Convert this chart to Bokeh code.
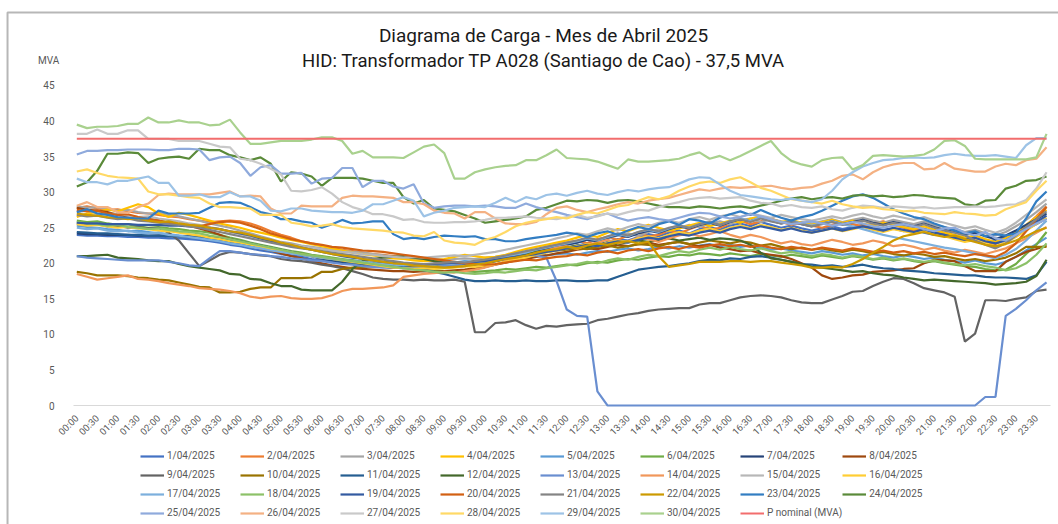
import sys
from bokeh.plotting import figure
from bokeh.models import Range1d, FixedTicker, Legend, LegendItem, Label, BoxAnnotation
from bokeh.embed import file_html
from bokeh.resources import INLINE

title_line1 = "Diagrama de Carga - Mes de Abril 2025"
title_line2 = "HID: Transformador TP A028 (Santiago de Cao) - 37,5 MVA"
unit_label = "MVA"

time_labels = ["00:00", "00:30", "01:00", "01:30", "02:00", "02:30", "03:00", "03:30",
               "04:00", "04:30", "05:00", "05:30", "06:00", "06:30", "07:00", "07:30",
               "08:00", "08:30", "09:00", "09:30", "10:00", "10:30", "11:00", "11:30",
               "12:00", "12:30", "13:00", "13:30", "14:00", "14:30", "15:00", "15:30",
               "16:00", "16:30", "17:00", "17:30", "18:00", "18:30", "19:00", "19:30",
               "20:00", "20:30", "21:00", "21:30", "22:00", "22:30", "23:00", "23:30"]

day_labels = ["1/04/2025", "2/04/2025", "3/04/2025", "4/04/2025", "5/04/2025", "6/04/2025",
              "7/04/2025", "8/04/2025", "9/04/2025", "10/04/2025", "11/04/2025", "12/04/2025",
              "13/04/2025", "14/04/2025", "15/04/2025", "16/04/2025", "17/04/2025", "18/04/2025",
              "19/04/2025", "20/04/2025", "21/04/2025", "22/04/2025", "23/04/2025", "24/04/2025",
              "25/04/2025", "26/04/2025", "27/04/2025", "28/04/2025", "29/04/2025", "30/04/2025"]

p_nominal_label = "P nominal (MVA)"
p_nominal_mva = 37.5
y_ticks = [0, 5, 10, 15, 20, 25, 30, 35, 40, 45]

# 15-minute readings (96 per day), MVA
d01 = [24.0, 23.9, 23.9, 23.8, 23.8, 23.7, 23.7, 23.6, 23.6, 23.5, 23.5, 23.4, 23.3, 23.1, 22.9, 22.6, 22.4, 22.1, 21.8, 21.6, 21.3, 21.1, 20.9, 20.6,
       20.4, 20.2, 20.0, 19.9, 19.7, 19.6, 19.5, 19.4, 19.5, 19.4, 19.6, 19.5, 19.6, 19.7, 19.8, 19.9, 20.1, 20.3, 20.6, 20.9, 21.2, 21.4, 21.7, 22.0,
       22.2, 22.5, 22.8, 22.6, 23.0, 23.4, 23.2, 23.7, 24.1, 23.8, 24.3, 24.6, 24.2, 24.8, 25.1, 24.7, 25.3, 25.6, 25.2, 25.8, 25.4, 25.0, 25.3, 24.9,
       24.6, 24.9, 25.2, 24.8, 25.1, 25.4, 25.0, 24.7, 24.9, 24.5, 24.8, 24.3, 24.0, 24.2, 23.8, 23.5, 23.2, 22.9, 23.3, 23.6, 24.1, 24.8, 25.5, 26.3]
d02 = [27.8, 28.0, 27.7, 27.5, 27.6, 27.3, 27.1, 27.0, 26.8, 26.6, 26.5, 26.2, 26.0, 25.8, 25.9, 26.0, 25.9, 25.6, 25.1, 24.5, 24.0, 23.6, 23.1, 22.8,
       22.5, 22.2, 21.9, 21.7, 21.5, 21.3, 21.2, 21.0, 20.8, 20.6, 20.5, 20.3, 20.2, 20.0, 19.9, 20.1, 20.3, 20.6, 20.8, 21.1, 21.5, 21.9, 22.3, 22.6,
       22.9, 23.2, 22.8, 23.4, 23.7, 23.3, 23.9, 24.3, 23.8, 24.0, 24.6, 24.2, 24.8, 25.3, 24.7, 25.0, 25.6, 26.0, 25.5, 25.9, 26.3, 25.8, 25.4, 25.7,
       25.3, 25.0, 25.4, 25.8, 25.5, 25.2, 25.6, 25.9, 25.4, 25.0, 24.6, 24.9, 24.4, 24.0, 23.7, 23.2, 23.5, 23.0, 22.7, 23.4, 24.2, 25.3, 26.6, 28.0]
d03 = [28.0, 27.8, 27.9, 27.6, 27.4, 27.5, 27.2, 27.0, 27.1, 26.8, 26.6, 26.3, 26.0, 25.6, 25.3, 25.0, 24.6, 24.2, 23.8, 23.4, 23.0, 22.8, 22.5, 22.3,
       22.1, 21.9, 21.8, 21.6, 21.5, 21.3, 21.1, 20.9, 20.7, 20.6, 20.5, 20.6, 20.5, 20.6, 20.7, 20.6, 20.8, 20.9, 21.1, 21.3, 21.6, 21.8, 22.1, 22.4,
       22.6, 22.9, 23.3, 23.0, 23.5, 23.9, 24.2, 23.8, 24.4, 24.8, 24.5, 25.0, 25.4, 25.1, 25.6, 25.9, 25.5, 26.1, 26.3, 25.8, 26.2, 25.9, 25.5, 25.8,
       25.6, 25.9, 26.2, 25.8, 26.1, 26.4, 26.0, 25.7, 26.1, 25.8, 25.5, 25.9, 25.4, 25.1, 24.8, 24.4, 24.7, 24.2, 23.9, 24.4, 25.2, 26.1, 27.2, 28.4]
d04 = [26.5, 27.0, 27.2, 27.6, 27.3, 27.8, 28.3, 27.9, 27.0, 26.5, 27.1, 26.8, 26.4, 26.0, 25.6, 25.3, 25.0, 24.6, 24.3, 24.0, 23.6, 23.3, 23.0, 22.7,
       22.4, 22.1, 21.8, 21.5, 21.3, 21.1, 20.9, 20.7, 20.6, 20.4, 20.3, 20.4, 20.6, 20.9, 21.2, 21.0, 20.8, 20.9, 21.2, 21.6, 22.0, 22.3, 22.6, 22.9,
       23.2, 23.6, 24.0, 23.7, 24.3, 24.8, 24.5, 25.0, 25.4, 25.0, 24.6, 24.9, 25.3, 25.7, 25.2, 25.6, 26.0, 25.7, 26.3, 26.6, 26.2, 25.8, 26.1, 25.7,
       25.4, 25.8, 26.1, 25.7, 26.0, 25.6, 25.3, 25.7, 25.4, 25.1, 24.8, 25.2, 24.7, 24.3, 24.0, 23.6, 23.9, 23.4, 23.0, 23.5, 24.4, 25.4, 26.5, 27.5]
d05 = [25.3, 25.1, 25.0, 24.8, 24.7, 24.5, 24.6, 24.4, 24.2, 24.1, 23.9, 23.8, 23.6, 23.4, 23.1, 22.9, 22.7, 22.4, 22.2, 21.9, 21.7, 21.5, 21.3, 21.1,
       20.9, 20.7, 20.5, 20.4, 20.2, 20.1, 20.0, 19.9, 19.8, 19.9, 19.8, 19.9, 20.0, 20.1, 20.3, 20.2, 20.4, 20.6, 20.7, 20.9, 21.0, 21.2, 21.1, 21.3,
       21.4, 21.2, 21.5, 21.7, 21.6, 21.9, 22.1, 21.8, 22.0, 22.3, 22.1, 22.4, 22.2, 22.5, 22.7, 22.4, 22.6, 22.3, 22.5, 22.2, 21.9, 22.1, 21.8, 21.6,
       21.4, 21.7, 21.5, 21.2, 21.4, 21.1, 21.3, 21.0, 20.8, 21.1, 20.9, 20.6, 20.8, 20.5, 20.3, 20.1, 20.4, 20.0, 19.8, 20.2, 20.9, 21.8, 22.7, 23.6]
d06 = [26.0, 25.8, 25.9, 25.6, 25.4, 25.5, 25.2, 25.0, 25.1, 24.9, 24.8, 24.6, 24.5, 24.3, 24.0, 23.6, 23.3, 22.9, 22.6, 22.3, 22.0, 21.7, 21.5, 21.2,
       21.0, 20.8, 20.6, 20.4, 20.2, 20.0, 19.8, 19.6, 19.4, 19.3, 19.1, 19.0, 18.9, 18.8, 18.9, 18.8, 18.9, 19.0, 19.2, 19.1, 19.3, 19.5, 19.4, 19.6,
       19.8, 19.7, 20.0, 20.2, 20.1, 20.4, 20.6, 20.5, 20.8, 21.0, 20.9, 21.2, 21.1, 21.4, 21.3, 21.1, 21.4, 21.2, 21.0, 21.3, 21.1, 20.9, 21.2, 21.0,
       20.8, 21.1, 20.9, 20.7, 21.0, 20.8, 20.5, 20.7, 20.4, 20.6, 20.3, 20.1, 20.3, 20.0, 19.8, 19.6, 19.5, 19.2, 19.0, 19.1, 19.9, 21.3, 22.6, 24.4]
d07 = [24.2, 24.1, 24.1, 24.0, 24.0, 24.0, 23.9, 23.9, 23.9, 23.8, 23.8, 23.8, 23.7, 23.7, 23.6, 23.4, 23.1, 22.8, 22.5, 22.2, 21.9, 21.6, 21.3, 21.0,
       20.7, 20.4, 20.2, 20.0, 19.8, 19.7, 19.5, 19.4, 19.3, 19.3, 19.2, 19.3, 19.4, 19.5, 19.6, 19.8, 20.0, 20.3, 20.6, 20.9, 21.3, 21.6, 22.0, 22.3,
       22.6, 22.9, 23.3, 23.1, 23.6, 24.0, 23.7, 24.2, 24.6, 24.3, 24.8, 25.2, 24.9, 25.4, 25.7, 25.3, 25.8, 26.2, 25.9, 26.4, 26.0, 25.6, 25.9, 25.5,
       25.2, 25.6, 25.9, 25.5, 25.8, 26.1, 25.7, 25.4, 25.8, 25.5, 25.2, 25.6, 25.1, 24.7, 24.4, 24.0, 24.3, 23.8, 23.4, 23.9, 24.6, 25.4, 26.2, 27.0]
d08 = [27.8, 27.5, 27.4, 27.2, 26.8, 26.6, 26.5, 26.2, 26.0, 25.7, 25.5, 25.3, 24.9, 24.5, 24.0, 23.4, 23.0, 22.6, 22.1, 21.8, 21.4, 21.0, 20.7, 20.3,
       20.0, 19.7, 19.5, 19.3, 19.2, 19.1, 19.0, 18.9, 18.9, 18.8, 18.9, 18.8, 18.9, 19.0, 19.1, 19.3, 19.5, 19.8, 20.1, 20.4, 20.6, 20.9, 21.1, 21.4,
       21.6, 21.9, 22.1, 22.0, 22.3, 22.6, 22.4, 22.7, 22.9, 22.6, 22.8, 23.0, 22.7, 22.4, 22.6, 22.2, 22.0, 21.7, 21.8, 21.4, 21.2, 21.0, 20.6, 20.0,
       19.4, 18.3, 17.8, 18.0, 18.3, 18.4, 18.8, 18.9, 19.0, 19.2, 19.3, 20.0, 20.5, 20.4, 20.3, 19.6, 18.9, 18.9, 18.9, 20.2, 20.9, 21.6, 22.0, 22.5]
d09 = [25.6, 25.4, 25.5, 25.2, 25.3, 25.0, 25.1, 24.9, 25.0, 24.3, 23.2, 21.4, 19.6, 20.4, 21.2, 21.6, 21.5, 21.3, 21.1, 21.0, 20.6, 20.4, 20.3, 20.1,
       19.8, 19.6, 19.3, 18.9, 18.5, 18.0, 17.8, 17.7, 17.7, 17.6, 17.7, 17.6, 17.6, 17.7, 17.4, 10.3, 10.3, 11.6, 11.7, 12.0, 11.3, 10.8, 11.2, 11.1,
       11.3, 11.4, 11.5, 12.0, 12.2, 12.5, 12.8, 13.0, 13.3, 13.5, 13.6, 13.7, 13.7, 14.2, 14.4, 14.4, 14.8, 15.2, 15.4, 15.5, 15.4, 15.2, 14.8, 14.5,
       14.4, 14.4, 14.9, 15.4, 16.0, 16.1, 16.8, 17.4, 17.9, 17.8, 17.2, 16.5, 16.2, 15.9, 15.3, 9.0, 10.1, 14.8, 14.8, 14.7, 15.0, 15.2, 16.1, 16.3]
d10 = [18.8, 18.6, 18.3, 18.3, 18.3, 18.2, 18.0, 17.9, 17.7, 17.6, 17.3, 17.0, 16.7, 16.6, 15.9, 15.9, 16.0, 16.4, 16.6, 16.6, 17.9, 17.9, 17.9, 18.0,
       18.8, 18.8, 19.2, 19.4, 19.5, 19.6, 19.6, 19.5, 19.7, 19.6, 19.8, 19.7, 19.9, 20.1, 20.0, 20.3, 20.5, 20.4, 20.8, 21.0, 21.2, 21.3, 21.6, 21.8,
       21.9, 22.1, 22.0, 22.3, 22.5, 22.2, 22.4, 22.7, 22.6, 22.4, 22.8, 23.0, 22.7, 22.9, 23.2, 23.0, 22.8, 23.1, 22.9, 22.5, 22.7, 22.3, 22.0, 22.2,
       21.9, 22.1, 21.8, 21.6, 21.9, 21.7, 21.4, 21.6, 21.3, 21.1, 21.4, 21.2, 20.9, 21.0, 20.7, 20.4, 20.6, 20.3, 20.5, 20.8, 21.4, 22.3, 22.3, 22.3]
d11 = [24.4, 24.3, 24.2, 24.2, 24.1, 24.0, 24.0, 23.9, 23.9, 23.8, 23.8, 23.7, 23.6, 23.4, 23.2, 22.9, 22.7, 22.5, 22.2, 22.0, 21.7, 21.5, 21.2, 21.0,
       20.7, 20.5, 20.3, 20.1, 19.9, 19.8, 19.7, 19.6, 19.5, 19.3, 19.0, 18.8, 18.5, 18.1, 17.7, 17.5, 17.5, 17.6, 17.5, 17.5, 17.6, 17.5, 17.5, 17.6,
       17.6, 17.5, 17.5, 17.6, 17.6, 18.1, 18.6, 19.1, 19.3, 19.5, 19.6, 19.8, 20.0, 20.3, 20.5, 20.4, 20.7, 20.6, 20.9, 21.0, 20.8, 20.5, 20.2, 19.9,
       19.8, 19.6, 19.7, 19.5, 19.6, 19.8, 19.5, 19.3, 19.2, 19.0, 18.9, 18.8, 18.6, 18.5, 18.4, 18.3, 18.3, 18.1, 18.0, 18.0, 17.9, 17.8, 18.3, 20.2]
d12 = [21.0, 21.0, 21.1, 21.2, 20.8, 20.7, 20.6, 20.4, 20.3, 20.3, 19.9, 19.6, 19.4, 19.2, 19.0, 18.5, 18.4, 17.8, 17.7, 17.2, 16.8, 16.8, 16.3, 16.2,
       16.2, 16.2, 17.4, 19.2, 20.3, 20.6, 20.8, 20.9, 21.0, 20.8, 20.6, 20.3, 20.1, 19.9, 19.8, 20.0, 20.2, 20.5, 20.8, 21.0, 21.3, 21.6, 21.8, 22.0,
       22.2, 22.5, 22.3, 22.6, 22.9, 22.7, 23.0, 23.2, 23.0, 23.3, 23.5, 23.2, 23.4, 23.6, 23.3, 23.5, 23.4, 23.2, 22.6, 21.5, 20.7, 20.5, 20.2, 19.9,
       19.5, 19.4, 19.2, 19.0, 18.8, 18.9, 18.6, 18.4, 18.3, 18.0, 17.8, 17.6, 17.7, 17.6, 17.5, 17.4, 17.3, 17.2, 17.0, 17.1, 17.2, 17.4, 18.2, 20.5]
d13 = [21.0, 20.8, 20.7, 20.6, 20.5, 20.4, 20.4, 20.4, 20.4, 20.2, 20.0, 19.7, 19.6, 20.7, 21.7, 21.7, 21.5, 21.3, 21.2, 21.0, 20.9, 20.7, 20.6, 20.4,
       20.3, 20.1, 19.9, 19.8, 19.6, 19.5, 19.4, 19.5, 19.3, 19.4, 19.5, 19.4, 19.6, 19.8, 19.7, 19.9, 20.2, 20.4, 20.6, 20.9, 21.0, 21.1, 20.8, 17.5,
       13.5, 12.6, 12.5, 2.0, 0.0, 0.0, 0.0, 0.0, 0.0, 0.0, 0.0, 0.0, 0.0, 0.0, 0.0, 0.0, 0.0, 0.0, 0.0, 0.0, 0.0, 0.0, 0.0, 0.0,
       0.0, 0.0, 0.0, 0.0, 0.0, 0.0, 0.0, 0.0, 0.0, 0.0, 0.0, 0.0, 0.0, 0.0, 0.0, 0.0, 0.0, 1.2, 1.2, 12.6, 13.6, 14.8, 16.2, 17.3]
d14 = [18.5, 18.1, 17.7, 17.9, 18.1, 18.3, 17.8, 17.7, 17.5, 17.2, 17.0, 16.8, 16.5, 16.4, 16.3, 16.1, 15.8, 15.3, 15.1, 15.3, 15.4, 15.1, 15.0, 15.0,
       15.1, 15.5, 16.1, 16.4, 16.4, 16.5, 16.6, 16.9, 18.1, 18.3, 18.5, 18.6, 18.8, 18.7, 18.9, 19.1, 19.4, 19.8, 20.3, 20.7, 21.0, 21.4, 21.8, 22.2,
       22.4, 22.0, 22.6, 22.9, 23.3, 22.8, 23.1, 23.6, 23.4, 23.0, 23.5, 23.9, 24.2, 23.8, 24.1, 24.5, 24.0, 23.6, 24.0, 23.7, 23.2, 22.8, 23.1, 22.7,
       22.5, 22.9, 23.3, 23.0, 22.6, 22.8, 23.2, 22.9, 22.4, 22.6, 22.3, 21.9, 22.2, 21.8, 21.5, 21.9, 21.6, 21.3, 21.7, 22.1, 22.8, 23.5, 24.3, 25.1]
d15 = [27.2, 27.4, 27.1, 26.9, 27.0, 26.7, 26.5, 26.6, 26.3, 26.1, 25.9, 25.6, 25.4, 25.1, 24.8, 24.4, 24.1, 23.8, 23.5, 23.2, 22.9, 22.6, 22.4, 22.2,
       22.0, 21.8, 21.6, 21.5, 21.3, 21.2, 21.0, 20.9, 20.8, 20.9, 20.8, 20.9, 21.0, 21.1, 21.0, 21.2, 21.4, 21.6, 21.9, 22.2, 22.5, 22.8, 23.1, 23.5,
       23.8, 24.2, 24.0, 24.5, 24.9, 24.6, 25.1, 25.5, 25.2, 25.7, 26.0, 25.7, 26.2, 26.5, 26.1, 26.6, 26.9, 26.5, 27.0, 26.7, 26.4, 26.8, 26.5, 26.2,
       26.0, 26.3, 26.6, 26.3, 26.7, 27.0, 26.6, 26.3, 26.7, 26.4, 26.1, 26.5, 26.0, 25.7, 25.3, 24.9, 25.2, 24.7, 24.3, 24.8, 25.7, 26.8, 27.9, 29.0]
d16 = [25.5, 25.3, 25.4, 25.2, 25.0, 25.1, 24.9, 24.8, 24.6, 24.5, 24.3, 24.1, 23.9, 23.6, 23.4, 23.1, 22.9, 22.6, 22.3, 22.0, 21.8, 21.5, 21.3, 21.0,
       20.8, 20.6, 20.4, 20.2, 20.0, 19.8, 19.6, 19.4, 19.3, 19.2, 19.3, 19.2, 19.3, 19.4, 19.6, 19.5, 19.7, 19.9, 20.2, 20.5, 20.8, 21.2, 21.5, 21.8,
       22.1, 22.4, 22.7, 22.4, 22.9, 23.2, 23.0, 23.5, 23.8, 23.5, 24.0, 24.4, 24.1, 24.6, 24.9, 24.5, 25.0, 25.3, 24.9, 25.4, 25.1, 24.7, 25.0, 24.6,
       24.3, 24.6, 24.9, 24.5, 24.8, 25.1, 24.7, 24.4, 24.8, 24.5, 24.2, 24.6, 24.1, 23.8, 23.4, 23.0, 23.3, 22.8, 22.4, 22.9, 23.7, 24.6, 25.5, 26.4]
d17 = [25.0, 24.8, 24.9, 24.6, 24.5, 24.6, 24.3, 24.2, 24.3, 24.0, 23.9, 23.7, 23.5, 23.3, 23.1, 22.8, 22.6, 22.3, 22.1, 21.8, 21.6, 21.4, 21.2, 21.0,
       20.8, 20.6, 20.5, 20.3, 20.2, 20.0, 19.9, 19.8, 19.7, 19.8, 19.7, 19.8, 19.9, 20.0, 20.2, 20.1, 20.3, 20.6, 20.9, 21.2, 21.5, 21.9, 22.2, 22.5,
       22.8, 23.1, 23.5, 23.2, 23.7, 24.1, 23.8, 24.4, 24.7, 24.4, 24.9, 25.3, 25.0, 25.5, 25.8, 25.4, 25.9, 26.3, 25.9, 26.5, 26.1, 25.7, 26.0, 25.6,
       25.3, 25.6, 25.9, 25.5, 25.2, 24.8, 24.4, 24.0, 23.7, 23.4, 23.1, 22.8, 22.5, 22.2, 22.0, 21.7, 21.4, 21.0, 20.7, 21.2, 22.0, 23.2, 24.6, 26.0]
d18 = [25.8, 25.6, 25.5, 25.3, 25.4, 25.1, 25.0, 24.8, 24.9, 24.7, 24.5, 24.4, 24.2, 23.9, 23.7, 23.4, 23.1, 22.8, 22.5, 22.2, 21.9, 21.6, 21.3, 21.1,
       20.9, 20.7, 20.5, 20.3, 20.1, 19.9, 19.7, 19.5, 19.3, 19.1, 19.0, 18.8, 18.7, 18.8, 18.6, 18.5, 18.6, 18.8, 18.7, 18.9, 19.1, 19.0, 19.3, 19.5,
       19.7, 19.9, 20.2, 20.0, 20.4, 20.7, 20.5, 20.9, 21.2, 21.0, 21.4, 21.7, 21.5, 21.9, 22.2, 21.9, 22.3, 22.0, 21.8, 22.1, 21.7, 21.4, 21.6, 21.3,
       21.0, 21.3, 21.1, 20.8, 21.1, 20.9, 20.6, 20.8, 20.5, 20.7, 20.4, 20.2, 20.4, 20.1, 19.9, 19.7, 19.9, 19.6, 19.4, 19.0, 19.3, 20.0, 21.2, 22.8]
d19 = [25.7, 25.6, 25.6, 25.5, 25.5, 25.5, 25.4, 25.4, 25.4, 25.3, 25.3, 25.2, 25.1, 25.0, 24.8, 24.5, 24.2, 23.9, 23.5, 23.1, 22.8, 22.5, 22.2, 21.9,
       21.6, 21.3, 21.0, 20.8, 20.6, 20.4, 20.2, 20.1, 20.0, 19.9, 19.8, 19.9, 20.0, 20.1, 20.0, 20.2, 20.3, 20.5, 20.7, 20.9, 21.1, 21.3, 21.6, 21.8,
       22.1, 22.3, 22.6, 22.4, 22.8, 23.1, 22.9, 23.3, 23.6, 23.4, 23.8, 24.1, 23.9, 24.3, 24.6, 24.3, 24.8, 25.1, 24.8, 25.2, 24.9, 24.6, 24.9, 24.5,
       24.3, 24.6, 24.9, 24.6, 24.9, 25.2, 24.9, 24.6, 25.0, 24.7, 24.4, 24.8, 24.3, 24.0, 23.6, 23.3, 23.6, 23.1, 22.8, 23.2, 24.0, 24.9, 25.8, 26.7]
d20 = [27.5, 27.3, 27.4, 27.0, 26.8, 26.9, 26.5, 26.2, 26.0, 25.7, 25.5, 25.3, 25.2, 25.5, 25.8, 25.9, 25.7, 25.3, 24.8, 24.2, 23.8, 23.4, 23.1, 22.8,
       22.6, 22.3, 22.2, 22.0, 21.8, 21.7, 21.6, 21.4, 21.2, 21.0, 20.8, 20.6, 20.4, 20.2, 20.0, 19.9, 19.8, 19.9, 20.1, 20.3, 20.5, 20.4, 20.7, 20.9,
       21.0, 21.3, 21.1, 21.5, 21.7, 21.4, 21.8, 22.0, 21.7, 22.1, 22.3, 22.0, 22.4, 22.2, 22.5, 22.7, 22.4, 22.6, 22.3, 22.5, 22.2, 22.0, 22.3, 22.1,
       21.9, 22.2, 22.0, 21.8, 22.1, 21.9, 21.6, 21.8, 21.5, 21.7, 21.4, 21.6, 21.3, 21.5, 21.2, 21.0, 21.3, 21.1, 20.9, 21.6, 22.8, 24.5, 26.2, 27.9]
d21 = [26.8, 26.6, 26.7, 26.4, 26.2, 26.3, 26.0, 25.9, 25.7, 25.5, 25.4, 25.2, 25.0, 24.7, 24.4, 24.1, 23.8, 23.5, 23.2, 22.9, 22.6, 22.3, 22.1, 21.9,
       21.7, 21.5, 21.3, 21.1, 20.9, 20.7, 20.5, 20.3, 20.1, 20.0, 19.9, 20.0, 20.1, 20.2, 20.1, 20.3, 20.5, 20.8, 21.1, 21.4, 21.7, 22.0, 22.3, 22.6,
       22.9, 23.2, 23.6, 23.3, 23.8, 24.2, 23.9, 24.4, 24.8, 24.5, 25.0, 25.3, 25.0, 25.5, 25.8, 25.4, 25.9, 26.2, 25.8, 26.3, 25.9, 25.6, 25.9, 25.5,
       25.2, 25.5, 25.8, 25.4, 25.7, 26.0, 25.6, 25.3, 25.7, 25.4, 25.1, 25.5, 25.0, 24.6, 24.3, 23.9, 23.2, 22.6, 22.1, 22.8, 23.9, 25.1, 26.2, 27.3]
d22 = [27.0, 26.8, 26.7, 26.5, 26.4, 26.2, 26.3, 26.0, 25.8, 25.9, 25.6, 25.4, 25.3, 25.0, 24.8, 24.5, 24.3, 24.0, 23.6, 23.3, 22.9, 22.6, 22.2, 21.9,
       21.6, 21.3, 21.1, 20.9, 20.6, 20.4, 20.2, 20.0, 19.9, 19.7, 19.6, 19.5, 19.4, 19.5, 19.6, 19.8, 20.0, 20.3, 20.6, 20.8, 21.1, 21.5, 21.8, 22.0,
       22.3, 22.1, 22.5, 22.8, 22.6, 22.9, 23.1, 22.8, 23.0, 21.0, 19.5, 19.7, 19.9, 20.2, 20.2, 20.2, 20.3, 20.3, 20.2, 20.3, 20.3, 20.1, 19.9, 19.7,
       19.4, 19.4, 19.5, 19.4, 19.9, 20.6, 21.5, 22.3, 23.2, 23.8, 24.1, 24.4, 24.0, 23.7, 23.9, 23.4, 23.0, 22.6, 22.4, 22.7, 23.2, 23.8, 24.5, 25.0]
d23 = [27.2, 27.6, 27.0, 26.8, 26.5, 26.4, 26.3, 26.3, 27.4, 27.0, 27.0, 27.0, 27.1, 27.8, 28.5, 28.6, 28.5, 27.9, 27.2, 26.9, 26.2, 26.2, 25.9, 25.7,
       25.0, 25.5, 26.1, 25.6, 25.7, 25.9, 25.9, 24.1, 23.4, 23.6, 23.4, 23.7, 23.9, 23.8, 23.7, 23.8, 23.4, 23.4, 23.1, 23.1, 23.4, 23.6, 23.8, 24.0,
       24.3, 24.1, 23.7, 24.2, 24.5, 24.0, 24.6, 25.1, 24.8, 25.5, 25.9, 25.4, 26.2, 26.0, 25.6, 26.4, 26.9, 27.3, 26.8, 27.5, 26.9, 26.4, 26.0, 26.5,
       26.8, 27.4, 28.1, 28.8, 29.4, 29.7, 29.2, 28.4, 27.6, 27.0, 26.5, 26.2, 25.6, 25.1, 24.6, 24.2, 24.5, 23.8, 24.1, 23.9, 24.2, 26.3, 28.7, 30.1]
d24 = [30.8, 31.4, 33.0, 35.4, 35.4, 35.6, 35.5, 34.1, 34.7, 34.9, 35.0, 34.7, 36.1, 35.9, 35.9, 35.2, 34.9, 34.5, 34.9, 34.0, 31.5, 32.8, 32.6, 32.2,
       30.9, 32.0, 32.0, 32.0, 31.9, 31.6, 31.3, 31.3, 29.3, 28.4, 28.9, 27.7, 27.5, 27.3, 26.8, 26.3, 25.7, 25.9, 26.1, 26.3, 26.6, 27.5, 27.8, 28.3,
       28.8, 28.7, 28.9, 28.8, 28.5, 28.8, 28.9, 28.7, 28.4, 28.1, 27.9, 27.9, 27.8, 28.0, 27.9, 27.7, 27.9, 28.0, 27.8, 28.1, 28.4, 28.8, 29.1, 29.3,
       29.0, 29.2, 29.3, 29.1, 29.5, 29.6, 29.4, 29.5, 29.3, 29.4, 29.6, 29.5, 29.3, 29.2, 29.1, 28.3, 28.1, 28.8, 28.9, 30.5, 30.9, 31.6, 31.7, 32.2]
d25 = [35.3, 35.8, 35.8, 35.9, 35.9, 36.0, 36.0, 36.0, 35.9, 35.9, 36.1, 36.1, 36.0, 34.5, 34.9, 35.0, 34.1, 32.3, 33.5, 33.8, 32.6, 32.6, 32.7, 31.2,
       31.9, 32.0, 33.4, 33.4, 30.7, 31.6, 31.6, 30.8, 30.5, 31.1, 28.4, 27.8, 28.0, 28.1, 28.1, 28.0, 28.1, 28.0, 27.8, 27.8, 28.4, 27.9, 27.5, 27.2,
       26.8, 26.5, 26.2, 26.7, 27.0, 26.4, 26.0, 26.3, 26.5, 26.2, 26.0, 26.4, 26.8, 27.1, 27.0, 26.6, 26.3, 26.5, 26.9, 26.6, 26.2, 25.8, 25.5, 25.7,
       25.9, 25.6, 25.3, 25.5, 25.8, 25.6, 25.2, 25.0, 25.3, 25.5, 25.2, 24.8, 24.5, 24.9, 25.0, 24.3, 23.9, 24.4, 23.5, 23.2, 24.0, 24.8, 25.6, 26.2]
d26 = [28.1, 28.6, 27.9, 27.9, 27.2, 27.1, 27.9, 28.4, 29.6, 29.8, 29.7, 29.7, 29.7, 29.7, 29.9, 30.1, 29.4, 29.5, 29.4, 27.7, 27.0, 27.0, 28.1, 28.0,
       28.0, 28.0, 29.2, 29.5, 29.4, 29.4, 29.3, 29.2, 28.6, 28.6, 28.3, 27.4, 27.1, 27.0, 26.3, 27.2, 27.2, 26.3, 25.6, 25.5, 25.5, 25.8, 26.9, 27.8,
       28.0, 27.5, 27.2, 27.6, 27.9, 28.3, 28.6, 28.4, 28.8, 29.0, 29.2, 29.6, 30.0, 30.4, 30.2, 30.5, 30.7, 30.6, 30.7, 30.8, 30.9, 30.6, 30.4, 30.6,
       30.7, 31.2, 31.6, 32.3, 32.5, 31.8, 32.8, 33.5, 33.9, 34.1, 34.1, 33.2, 33.3, 34.1, 33.3, 33.1, 32.9, 32.9, 33.6, 34.0, 33.8, 34.5, 34.7, 36.3]
d27 = [38.2, 38.2, 38.8, 38.2, 38.2, 38.7, 38.7, 37.5, 37.5, 37.5, 37.2, 37.2, 37.2, 36.8, 36.4, 36.3, 34.7, 34.5, 34.0, 33.3, 32.5, 30.2, 30.1, 30.3,
       30.7, 29.8, 28.6, 27.9, 27.5, 26.9, 26.9, 26.6, 26.1, 26.2, 25.8, 25.7, 25.7, 25.8, 25.8, 25.9, 26.1, 26.4, 26.4, 26.5, 26.6, 26.4, 26.3, 26.2,
       26.5, 26.8, 26.4, 26.6, 27.0, 26.8, 27.2, 27.5, 27.4, 27.9, 28.3, 28.6, 29.0, 29.2, 29.3, 29.1, 29.2, 29.3, 28.8, 28.5, 28.4, 28.0, 28.2, 27.9,
       27.8, 28.0, 27.6, 27.4, 27.8, 28.1, 28.0, 27.8, 28.0, 27.9, 27.8, 27.9, 27.7, 27.8, 27.9, 27.9, 28.0, 27.9, 28.0, 28.2, 28.3, 28.9, 30.5, 32.8]
d28 = [32.9, 33.2, 32.7, 32.3, 32.1, 32.0, 31.9, 30.1, 29.7, 29.7, 29.5, 29.3, 29.2, 28.4, 27.9, 27.9, 27.8, 27.7, 26.8, 26.8, 26.8, 25.7, 25.5, 25.2,
       25.3, 25.5, 25.1, 24.9, 24.8, 24.7, 24.6, 24.4, 24.3, 23.9, 23.8, 24.4, 23.2, 22.9, 22.8, 22.6, 23.3, 23.7, 24.4, 25.2, 25.7, 26.0, 26.2, 26.5,
       26.3, 26.8, 27.2, 27.0, 27.5, 28.0, 28.2, 28.8, 29.3, 29.0, 29.4, 30.2, 30.8, 31.3, 31.5, 31.3, 31.8, 32.1, 31.4, 30.6, 30.2, 29.6, 29.0, 28.8,
       28.6, 28.4, 28.8, 28.3, 28.0, 27.8, 27.9, 27.6, 27.5, 27.3, 27.4, 27.1, 27.0, 26.9, 27.2, 27.0, 26.9, 26.7, 26.8, 27.6, 28.1, 28.6, 30.2, 31.6]
d29 = [31.9, 31.4, 31.4, 31.1, 31.6, 31.6, 31.9, 32.2, 31.3, 31.3, 29.5, 29.5, 29.7, 29.3, 29.3, 30.0, 29.4, 29.4, 28.8, 27.4, 27.3, 27.7, 27.7, 27.4,
       27.3, 27.2, 27.2, 27.1, 27.4, 28.3, 28.3, 28.8, 29.3, 28.8, 26.6, 27.1, 27.4, 27.8, 27.9, 28.0, 27.9, 28.5, 29.2, 28.6, 29.3, 29.0, 29.6, 29.8,
       29.5, 29.9, 30.2, 29.8, 29.6, 30.0, 30.3, 30.1, 30.4, 30.6, 30.7, 31.2, 31.8, 32.1, 32.0, 31.1, 30.2, 29.6, 29.4, 29.2, 29.0, 28.9, 29.1, 28.8,
       28.6, 29.0, 30.2, 31.8, 32.8, 33.6, 34.1, 34.5, 34.6, 34.8, 34.9, 34.8, 34.9, 35.2, 35.4, 35.2, 35.1, 35.1, 35.2, 35.0, 34.8, 36.6, 37.6, 37.6]
d30 = [39.5, 39.0, 39.2, 39.2, 39.3, 39.6, 39.6, 40.5, 39.8, 39.8, 40.1, 39.8, 39.8, 39.4, 39.5, 40.2, 38.4, 36.8, 36.8, 37.0, 37.2, 37.2, 37.2, 37.4,
       37.7, 37.7, 37.2, 35.4, 35.8, 34.9, 34.9, 34.9, 34.8, 35.6, 36.4, 36.7, 35.5, 31.9, 31.9, 32.8, 33.2, 33.5, 33.7, 33.8, 34.5, 34.5, 35.2, 36.0,
       34.8, 34.7, 34.6, 34.3, 33.8, 33.3, 34.6, 34.3, 34.3, 34.4, 34.5, 34.7, 35.2, 35.6, 34.7, 35.1, 34.5, 35.1, 35.8, 36.5, 37.2, 35.5, 34.4, 33.9,
       33.6, 34.5, 34.8, 34.9, 33.2, 33.8, 35.1, 35.2, 35.1, 35.0, 35.1, 35.3, 36.0, 37.2, 37.3, 36.5, 34.7, 34.6, 34.6, 34.6, 34.6, 34.6, 34.9, 38.2]

series = [d01, d02, d03, d04, d05, d06, d07, d08, d09, d10, d11, d12, d13, d14, d15,
          d16, d17, d18, d19, d20, d21, d22, d23, d24, d25, d26, d27, d28, d29, d30]

line_colors = ["#4472C4", "#ED7D31", "#A5A5A5", "#FFC000", "#5B9BD5", "#70AD47", "#264478", "#9E480E",
               "#636363", "#997300", "#255E91", "#43682B", "#698ED0", "#F1975A", "#B7B7B7", "#FFCD33",
               "#7CAFDD", "#8CC168", "#335AA1", "#D26012", "#848484", "#CC9A00", "#327DC2", "#5A8A39",
               "#8FAADC", "#F4B183", "#C9C9C9", "#FFD966", "#9DC3E6", "#A9D18E"]
nominal_color = "#F26D6D"

hours = [i * 0.25 for i in range(96)]
label_ticks = [i * 0.5 for i in range(len(time_labels))]

FONT = "Roboto"
GREY = "#595959"

# The frame covers the whole 1058x524 canvas so that titles and legend (drawn inside it) are not clipped.
# Mapping: 40.83 px/hour, 7.111 px/MVA, 00:00 at x=76, 0 MVA at y=405.
p = figure(width=1058, height=524, output_backend="svg", toolbar_location=None,
           x_range=Range1d(-1.869, 24.043), y_range=Range1d(-16.73, 56.95),
           min_border=0, background_fill_color="white", border_fill_color="white")
p.outline_line_color = None
p.xgrid.grid_line_color = None
p.ygrid.grid_line_color = None

# chart-area border (top and left edges visible, the others fall outside the canvas)
p.add_layout(BoxAnnotation(left=-1.697, right=40, top=55.27, bottom=-40,
                           fill_alpha=0, line_color="#111111", line_width=2, level="underlay"))

renderers = []
for vals, col in zip(series, line_colors):
    if len(vals) != len(hours):
        print("length mismatch", len(vals), file=sys.stderr)
    r = p.line(hours[:len(vals)], vals, line_color=col, line_width=2.2)
    renderers.append(r)
r_nom = p.line(hours, [p_nominal_mva] * len(hours), line_color=nominal_color, line_width=2.0)

xa = p.xaxis[0]
xa.fixed_location = 0
xa.bounds = (-0.08, 23.85)
xa.ticker = FixedTicker(ticks=label_ticks)
xa.major_label_overrides = {t: lab for t, lab in zip(label_ticks, time_labels)}
xa.major_label_orientation = 0.785
xa.axis_line_color = "#D9D9D9"
xa.axis_line_width = 1.2
xa.major_tick_line_color = None
xa.minor_tick_line_color = None
xa.major_label_text_font = FONT
xa.major_label_text_font_size = "9.5px"
xa.major_label_text_color = GREY
xa.major_label_standoff = 5
xa.level = "underlay"

ya = p.yaxis[0]
ya.fixed_location = -0.08
ya.bounds = (0, 45)
ya.ticker = FixedTicker(ticks=y_ticks)
ya.axis_line_color = None
ya.major_tick_line_color = None
ya.minor_tick_line_color = None
ya.major_label_text_font = FONT
ya.major_label_text_font_size = "10px"
ya.major_label_text_color = GREY
ya.major_label_standoff = 13

items = [LegendItem(label=lab, renderers=[r]) for lab, r in zip(day_labels, renderers)]
items.append(LegendItem(label=p_nominal_label, renderers=[r_nom]))
legend = Legend(items=items, location=(140, 2), orientation="horizontal", ncols=8,
                glyph_width=24, glyph_height=10, label_standoff=3, label_width=73, label_height=19,
                spacing=0, padding=0, margin=0, border_line_color=None, background_fill_alpha=0,
                label_text_font=FONT, label_text_font_size="10px", label_text_color=GREY)
p.add_layout(legend)

p.add_layout(Label(x=11.43, y=52.0, text=title_line1, text_align="center", text_baseline="middle",
                   text_font=FONT, text_font_size="19px", text_color="#1A1A1A"))
p.add_layout(Label(x=11.43, y=48.5, text=title_line2, text_align="center", text_baseline="middle",
                   text_font=FONT, text_font_size="18.5px", text_color="#1A1A1A"))
p.add_layout(Label(x=-0.69, y=48.5, text=unit_label, text_align="center", text_baseline="middle",
                   text_font=FONT, text_font_size="10px", text_color=GREY))

open("out.html", "w").write(file_html(p, INLINE))
